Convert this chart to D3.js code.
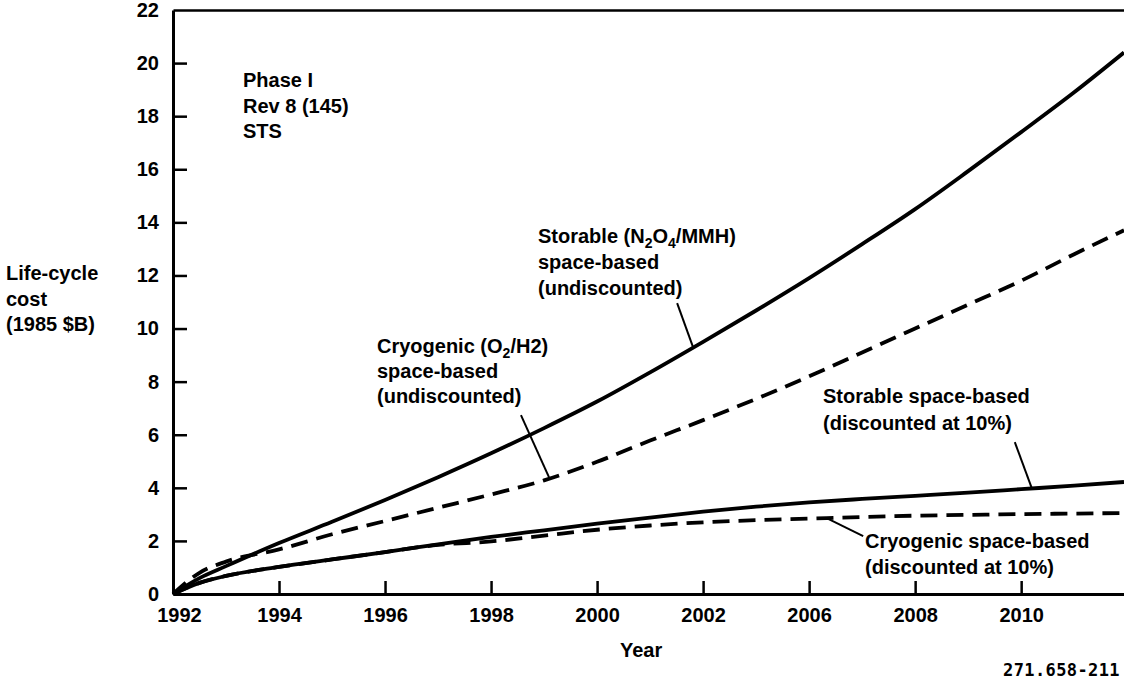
<!DOCTYPE html>
<html>
<head>
<meta charset="utf-8">
<script src="https://cdn.jsdelivr.net/npm/d3@7"></script>
<style>
  body { margin: 0; background: #fff; }
  svg { display: block; }
  text { font-family: 'Liberation Sans', Arial, Helvetica, sans-serif; font-weight: bold; fill: #000; }
  .axis text { font-size: 20px; }
  .axis path, .axis line { stroke: #000; }
  .label { font-size: 20px; }
  .code { font-family: 'DejaVu Sans Mono', monospace; font-size: 17px; }
</style>
</head>
<body>
<div id="chart"></div>
<script>
var width = 1124;
var height = 683;

// x positions are in "tick slots": 0 = 1992, 1 = 1994 ... 8 = 2010 (the chart skips 2004)
var xTickLabels = ['1992', '1994', '1996', '1998', '2000', '2002', '2006', '2008', '2010'];
var yTicks = [0, 2, 4, 6, 8, 10, 12, 14, 16, 18, 20, 22];

var slots = [0, 0.25, 0.5, 1, 1.5, 2, 2.5, 3, 3.5, 4, 4.5, 5, 5.5, 6, 6.5, 7, 7.5, 8, 8.5, 8.97];

var storableUndisc = [0, 0.6, 1.05, 1.92, 2.72, 3.54, 4.4, 5.3, 6.25, 7.25, 8.35, 9.5, 10.68, 11.9, 13.18, 14.5, 15.93, 17.4, 18.9, 20.4];
var cryoUndisc = [0, 0.8, 1.22, 1.68, 2.25, 2.75, 3.25, 3.75, 4.28, 4.98, 5.78, 6.55, 7.35, 8.2, 9.1, 10.0, 10.9, 11.8, 12.8, 13.7];
var storableDisc = [0, 0.42, 0.68, 1.02, 1.3, 1.58, 1.87, 2.15, 2.4, 2.65, 2.88, 3.1, 3.29, 3.45, 3.58, 3.7, 3.82, 3.95, 4.08, 4.22];
var cryoDisc = [0, 0.42, 0.68, 1.02, 1.3, 1.58, 1.85, 1.98, 2.2, 2.42, 2.58, 2.7, 2.78, 2.84, 2.9, 2.95, 2.98, 3.01, 3.03, 3.05];

var series = [
  { name: 'storableUndisc', values: storableUndisc, dashed: false },
  { name: 'cryoUndisc', values: cryoUndisc, dashed: true },
  { name: 'cryoDisc', values: cryoDisc, dashed: true },
  { name: 'storableDisc', values: storableDisc, dashed: false }
];

// leader lines, in data units [slot, value]
var leaders = [
  [[4.755, 10.96], [4.905, 9.3]],
  [[3.282, 6.74], [3.546, 4.4]],
  [[7.94, 5.72], [8.10, 3.99]],
  [[6.51, 2.18], [6.18, 2.83]]
];

var notes = [
  { x: 243, y: 87, lines: ['Phase I', 'Rev 8 (145)', 'STS'], gap: 25.5 },
  { x: 538, y: 243, lines: ['STORABLE', 'space-based', '(undiscounted)'], gap: 26 },
  { x: 377, y: 353, lines: ['CRYO', 'space-based', '(undiscounted)'], gap: 25 },
  { x: 823, y: 403, lines: ['Storable space-based', '(discounted at 10%)'], gap: 27 },
  { x: 865, y: 548, lines: ['Cryogenic space-based', '(discounted at 10%)'], gap: 26 },
  { x: 6, y: 280, lines: ['Life-cycle', 'cost', '(1985 $B)'], gap: 25.5 }
];

var svg = d3.select('#chart').append('svg')
  .attr('width', width)
  .attr('height', height);

var x = d3.scaleLinear().domain([0, 8.97]).range([173, 1124]);
var y = d3.scaleLinear().domain([0, 22]).range([594, 10]);

// top frame
svg.append('g')
  .attr('class', 'axis')
  .attr('transform', 'translate(0,' + y(22) + ')')
  .call(d3.axisTop(x).tickValues([]).tickSizeOuter(0))
  .select('.domain').attr('stroke-width', 2.5);

var yAxis = svg.append('g')
  .attr('class', 'axis')
  .attr('transform', 'translate(' + x(0) + ',0)')
  .call(d3.axisLeft(y).tickValues(yTicks).tickSize(-14).tickSizeOuter(0).tickPadding(14));
yAxis.select('.domain').attr('stroke-width', 3);
yAxis.selectAll('.tick line').attr('stroke-width', 2.5);
yAxis.selectAll('.tick').filter(function(d) { return d === 0 || d === 22; }).select('line').remove();

var xAxis = svg.append('g')
  .attr('class', 'axis')
  .attr('transform', 'translate(0,' + y(0) + ')')
  .call(d3.axisBottom(x)
    .tickValues(d3.range(xTickLabels.length))
    .tickFormat(function(i) { return xTickLabels[i]; })
    .tickSize(-13).tickSizeOuter(0).tickPadding(14));
xAxis.select('.domain').attr('stroke-width', 3);
xAxis.selectAll('.tick line').attr('stroke-width', 2.5);
xAxis.selectAll('.tick').filter(function(d) { return d === 0; }).select('line').remove();
xAxis.selectAll('.tick').filter(function(d) { return d === 0; }).select('text').attr('dx', 6);

var line = d3.line()
  .x(function(d) { return x(d[0]); })
  .y(function(d) { return y(d[1]); })
  .curve(d3.curveMonotoneX);

svg.append('g')
  .selectAll('path')
  .data(series)
  .enter().append('path')
  .attr('fill', 'none')
  .attr('stroke', '#000')
  .attr('stroke-width', 3.8)
  .attr('stroke-dasharray', function(d) { return d.dashed ? '17,9' : null; })
  .attr('d', function(d) {
    return line(slots.map(function(s, i) { return [s, d.values[i]]; }));
  });

svg.append('g')
  .selectAll('line')
  .data(leaders)
  .enter().append('line')
  .attr('stroke', '#000')
  .attr('stroke-width', 2)
  .attr('x1', function(d) { return x(d[0][0]); })
  .attr('y1', function(d) { return y(d[0][1]); })
  .attr('x2', function(d) { return x(d[1][0]); })
  .attr('y2', function(d) { return y(d[1][1]); });

notes.forEach(function(n) {
  var t = svg.append('text').attr('class', 'label');
  n.lines.forEach(function(s, i) {
    var row = t.append('tspan').attr('x', n.x).attr('y', n.y + i * n.gap);
    if (s === 'STORABLE') {
      row.append('tspan').text('Storable (N');
      row.append('tspan').attr('font-size', 14).attr('dy', 5).text('2');
      row.append('tspan').attr('dy', -5).text('O');
      row.append('tspan').attr('font-size', 14).attr('dy', 5).text('4');
      row.append('tspan').attr('dy', -5).text('/MMH)');
    } else if (s === 'CRYO') {
      row.append('tspan').text('Cryogenic (O');
      row.append('tspan').attr('font-size', 14).attr('dy', 5).text('2');
      row.append('tspan').attr('dy', -5).text('/H2)');
    } else {
      row.text(s);
    }
  });
});

svg.append('text')
  .attr('class', 'label')
  .attr('x', 620)
  .attr('y', 657)
  .text('Year');

svg.append('text')
  .attr('class', 'code')
  .attr('x', 1120)
  .attr('y', 676)
  .attr('text-anchor', 'end')
  .attr('letter-spacing', 0.4)
  .text('271.658-211');
</script>
</body>
</html>
